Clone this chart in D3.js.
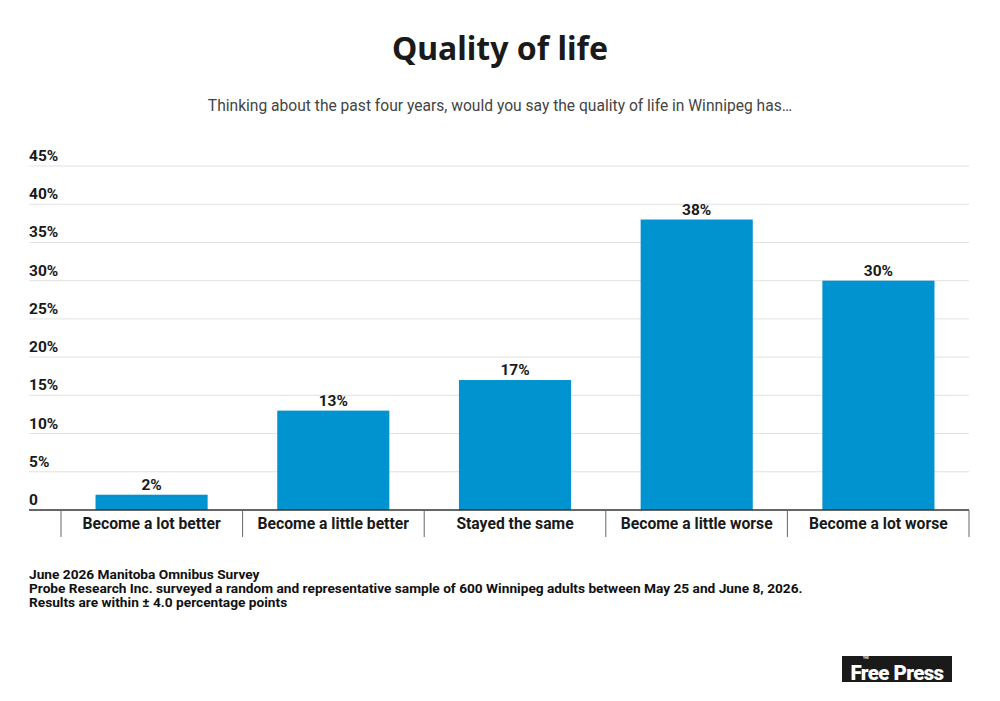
<!DOCTYPE html>
<html>
<head>
<meta charset="utf-8">
<script src="https://cdn.jsdelivr.net/npm/d3@7"></script>
<style>
  body { margin: 0; background: #fff; }
  svg { display: block; font-family: Roboto, sans-serif; }
</style>
</head>
<body>
<svg id="chart" width="1000" height="701"></svg>
<script>
const categories = ['Become a lot better', 'Become a little better', 'Stayed the same', 'Become a little worse', 'Become a lot worse'];
const values = [2, 13, 17, 38, 30];
const yTicks = [0, 5, 10, 15, 20, 25, 30, 35, 40, 45];
const footnotes = [
  'June 2026 Manitoba Omnibus Survey',
  'Probe Research Inc. surveyed a random and representative sample of 600 Winnipeg adults between May 25 and June 8, 2026.',
  'Results are within \u00b1 4.0 percentage points'
];

const svg = d3.select('#chart');
const plotLeft = 29, plotRight = 969, bandLeft = 61;
const plotTop = 166, plotBottom = 510;

const x = d3.scaleBand()
  .domain(categories)
  .range([bandLeft, plotRight])
  .paddingInner(0.383)
  .paddingOuter(0.19);

const y = d3.scaleLinear()
  .domain([0, 45])
  .range([plotBottom, plotTop]);

// title + subtitle
svg.append('text')
  .attr('x', 500).attr('y', 60)
  .attr('text-anchor', 'middle')
  .style('font-family', '"Noto Sans", sans-serif')
  .style('font-size', '32px').style('font-weight', 700)
  .attr('fill', '#1a1a1a')
  .text('Quality of life');

svg.append('text')
  .attr('x', 500).attr('y', 111)
  .attr('text-anchor', 'middle')
  .style('font-size', '15.6px')
  .attr('fill', '#444')
  .text('Thinking about the past four years, would you say the quality of life in Winnipeg has\u2026');

// gridlines + y labels
const grid = svg.append('g');
grid.selectAll('line')
  .data(yTicks.filter(d => d > 0))
  .join('line')
  .attr('x1', plotLeft).attr('x2', plotRight)
  .attr('y1', d => y(d)).attr('y2', d => y(d))
  .attr('stroke', '#e2e2e2').attr('stroke-width', 1);

grid.selectAll('text')
  .data(yTicks)
  .join('text')
  .attr('x', plotLeft).attr('y', d => y(d) - 5)
  .style('font-size', '15.5px').style('font-weight', 700)
  .attr('fill', '#1a1a1a')
  .text(d => d === 0 ? '0' : d + '%');

// bars
svg.append('g')
  .selectAll('rect')
  .data(values)
  .join('rect')
  .attr('x', (d, i) => x(categories[i]))
  .attr('width', x.bandwidth())
  .attr('y', d => y(d))
  .attr('height', d => y(0) - y(d))
  .attr('fill', '#0093d0');

svg.append('g')
  .selectAll('text')
  .data(values)
  .join('text')
  .attr('x', (d, i) => x(categories[i]) + x.bandwidth() / 2)
  .attr('y', d => y(d) - 5)
  .attr('text-anchor', 'middle')
  .style('font-size', '15.5px').style('font-weight', 700)
  .attr('fill', '#1a1a1a')
  .text(d => d + '%');

// x axis: baseline, separators, labels
const xAxis = svg.append('g');
xAxis.append('line')
  .attr('x1', plotLeft).attr('x2', plotRight)
  .attr('y1', plotBottom).attr('y2', plotBottom)
  .attr('stroke', '#333').attr('stroke-width', 1.5);

xAxis.selectAll('line.sep')
  .data(d3.range(categories.length + 1))
  .join('line')
  .attr('class', 'sep')
  .attr('x1', i => bandLeft + i * (plotRight - bandLeft) / categories.length)
  .attr('x2', i => bandLeft + i * (plotRight - bandLeft) / categories.length)
  .attr('y1', plotBottom).attr('y2', plotBottom + 27)
  .attr('stroke', '#666').attr('stroke-width', 1);

xAxis.selectAll('text')
  .data(categories)
  .join('text')
  .attr('x', d => x(d) + x.bandwidth() / 2)
  .attr('y', plotBottom + 19)
  .attr('text-anchor', 'middle')
  .style('font-size', '15.7px').style('font-weight', 700)
  .attr('fill', '#1a1a1a')
  .text(d => d);

// footnotes
svg.append('g')
  .selectAll('text')
  .data(footnotes)
  .join('text')
  .attr('x', plotLeft).attr('y', (d, i) => 579 + i * 14)
  .style('font-size', '13.7px').style('font-weight', 700)
  .attr('fill', '#111')
  .text(d => d);

// logo
const logo = svg.append('g').attr('transform', 'translate(842,656)');
logo.append('rect').attr('width', 110).attr('height', 26).attr('fill', '#1a1a1a');
logo.append('text')
  .attr('x', 55).attr('y', 23.5)
  .attr('text-anchor', 'middle')
  .style('font-size', '20.5px').style('font-weight', 900)
  .style('letter-spacing', '-0.6px')
  .attr('fill', '#fff')
  .text('Free Press');
logo.append('text')
  .attr('x', 21).attr('y', 3)
  .style('font-size', '3px').style('font-weight', 700)
  .attr('fill', '#fff')
  .text('THE');
</script>
</body>
</html>
